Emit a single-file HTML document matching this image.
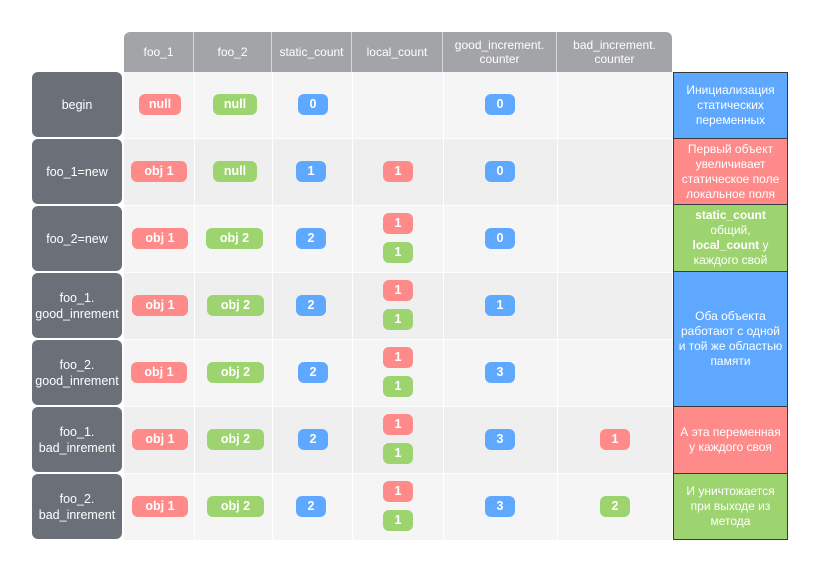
<!DOCTYPE html><html><head><meta charset="utf-8"><style>
body{margin:0;width:820px;height:573px;background:#fff;font-family:"Liberation Sans",sans-serif;position:relative;overflow:hidden}
div{position:absolute;box-sizing:border-box}
.h{top:32px;height:40px;background:#a3a4a8;color:#fff;font-size:12px;text-align:center;display:flex;align-items:center;justify-content:center;line-height:14px;border-right:1px solid #d8d8d8}
.r{left:124px;width:548px;height:66px}
.c{width:1px;background:#fff;top:72px;height:468px}
.l{left:32px;width:90px;height:65px;background:#6b6f77;border-radius:6px;color:#fff;font-size:12.5px;text-align:center;display:flex;align-items:center;justify-content:center;line-height:16px}
.b{height:21px;border-radius:6px;color:#fff;font-weight:bold;font-size:12.5px;text-align:center;line-height:21px}
.R{background:#ff8a8a}.G{background:#9ed46f}.B{background:#5fa8ff}
.n{width:30px}
.x{left:673px;width:115px;border:1px solid #3a3a3a;color:#fff;font-size:12px;text-align:center;display:flex;align-items:center;justify-content:center;line-height:15px;padding:0 3px}
</style></head><body>
<div class="h" style="left:124px;width:70px;border-top-left-radius:6px">foo_1</div>
<div class="h" style="left:194px;width:78px">foo_2</div>
<div class="h" style="left:272px;width:80px">static_count</div>
<div class="h" style="left:352px;width:91px">local_count</div>
<div class="h" style="left:443px;width:114px">good_increment.<br>counter</div>
<div class="h" style="left:557px;width:115px;border-top-right-radius:6px;border-right:none">bad_increment.<br>counter</div>

<div class="r" style="top:72px;background:#f5f5f5"></div>
<div class="r" style="top:139px;background:#efefef"></div>
<div class="r" style="top:206px;background:#f5f5f5"></div>
<div class="r" style="top:273px;background:#efefef"></div>
<div class="r" style="top:340px;background:#f5f5f5"></div>
<div class="r" style="top:407px;background:#efefef"></div>
<div class="r" style="top:474px;background:#f5f5f5"></div>
<div class="c" style="left:194px"></div><div class="c" style="left:272px"></div><div class="c" style="left:352px"></div><div class="c" style="left:443px"></div><div class="c" style="left:557px"></div>

<div class="l" style="top:72px">begin</div>
<div class="l" style="top:139px">foo_1=new</div>
<div class="l" style="top:206px">foo_2=new</div>
<div class="l" style="top:273px">foo_1.<br>good_inrement</div>
<div class="l" style="top:340px">foo_2.<br>good_inrement</div>
<div class="l" style="top:407px">foo_1.<br>bad_inrement</div>
<div class="l" style="top:474px">foo_2.<br>bad_inrement</div>

<!-- row 1 -->
<div class="b R" style="left:139px;top:94px;width:42px">null</div>
<div class="b G" style="left:213px;top:94px;width:44px">null</div>
<div class="b B n" style="left:298px;top:94px">0</div>
<div class="b B n" style="left:485px;top:94px">0</div>
<!-- row 2 -->
<div class="b R" style="left:131px;top:161px;width:56px">obj 1</div>
<div class="b G" style="left:213px;top:161px;width:44px">null</div>
<div class="b B n" style="left:296px;top:161px">1</div>
<div class="b R n" style="left:383px;top:161px">1</div>
<div class="b B n" style="left:485px;top:161px">0</div>
<!-- row 3 -->
<div class="b R" style="left:132px;top:228px;width:56px">obj 1</div>
<div class="b G" style="left:206px;top:228px;width:57px">obj 2</div>
<div class="b B n" style="left:296px;top:228px">2</div>
<div class="b R n" style="left:383px;top:213px">1</div>
<div class="b G n" style="left:383px;top:242px">1</div>
<div class="b B n" style="left:485px;top:228px">0</div>
<!-- row 4 -->
<div class="b R" style="left:132px;top:295px;width:56px">obj 1</div>
<div class="b G" style="left:207px;top:295px;width:57px">obj 2</div>
<div class="b B n" style="left:296px;top:295px">2</div>
<div class="b R n" style="left:383px;top:280px">1</div>
<div class="b G n" style="left:383px;top:309px">1</div>
<div class="b B n" style="left:485px;top:295px">1</div>
<!-- row 5 -->
<div class="b R" style="left:131px;top:362px;width:56px">obj 1</div>
<div class="b G" style="left:207px;top:362px;width:57px">obj 2</div>
<div class="b B n" style="left:298px;top:362px">2</div>
<div class="b R n" style="left:383px;top:347px">1</div>
<div class="b G n" style="left:383px;top:376px">1</div>
<div class="b B n" style="left:485px;top:362px">3</div>
<!-- row 6 -->
<div class="b R" style="left:132px;top:429px;width:56px">obj 1</div>
<div class="b G" style="left:207px;top:429px;width:57px">obj 2</div>
<div class="b B n" style="left:298px;top:429px">2</div>
<div class="b R n" style="left:383px;top:414px">1</div>
<div class="b G n" style="left:383px;top:443px">1</div>
<div class="b B n" style="left:485px;top:429px">3</div>
<div class="b R n" style="left:600px;top:429px">1</div>
<!-- row 7 -->
<div class="b R" style="left:132px;top:496px;width:56px">obj 1</div>
<div class="b G" style="left:207px;top:496px;width:57px">obj 2</div>
<div class="b B n" style="left:296px;top:496px">2</div>
<div class="b R n" style="left:383px;top:481px">1</div>
<div class="b G n" style="left:383px;top:510px">1</div>
<div class="b B n" style="left:485px;top:496px">3</div>
<div class="b G n" style="left:600px;top:496px">2</div>

<div class="x B" style="top:72px;height:67px">Инициализация статических переменных</div>
<div class="x R" style="top:138px;height:67px">Первый объект увеличивает статическое поле локальное поля</div>
<div class="x G" style="top:204px;height:68px"><span><b>static_count</b> общий, <b>local_count</b> у каждого свой</span></div>
<div class="x B" style="top:271px;height:136px">Оба объекта работают с одной и той же областью памяти</div>
<div class="x R" style="top:406px;height:68px">А эта переменная у каждого своя</div>
<div class="x G" style="top:473px;height:67px">И уничтожается при выходе из метода</div>
</body></html>
